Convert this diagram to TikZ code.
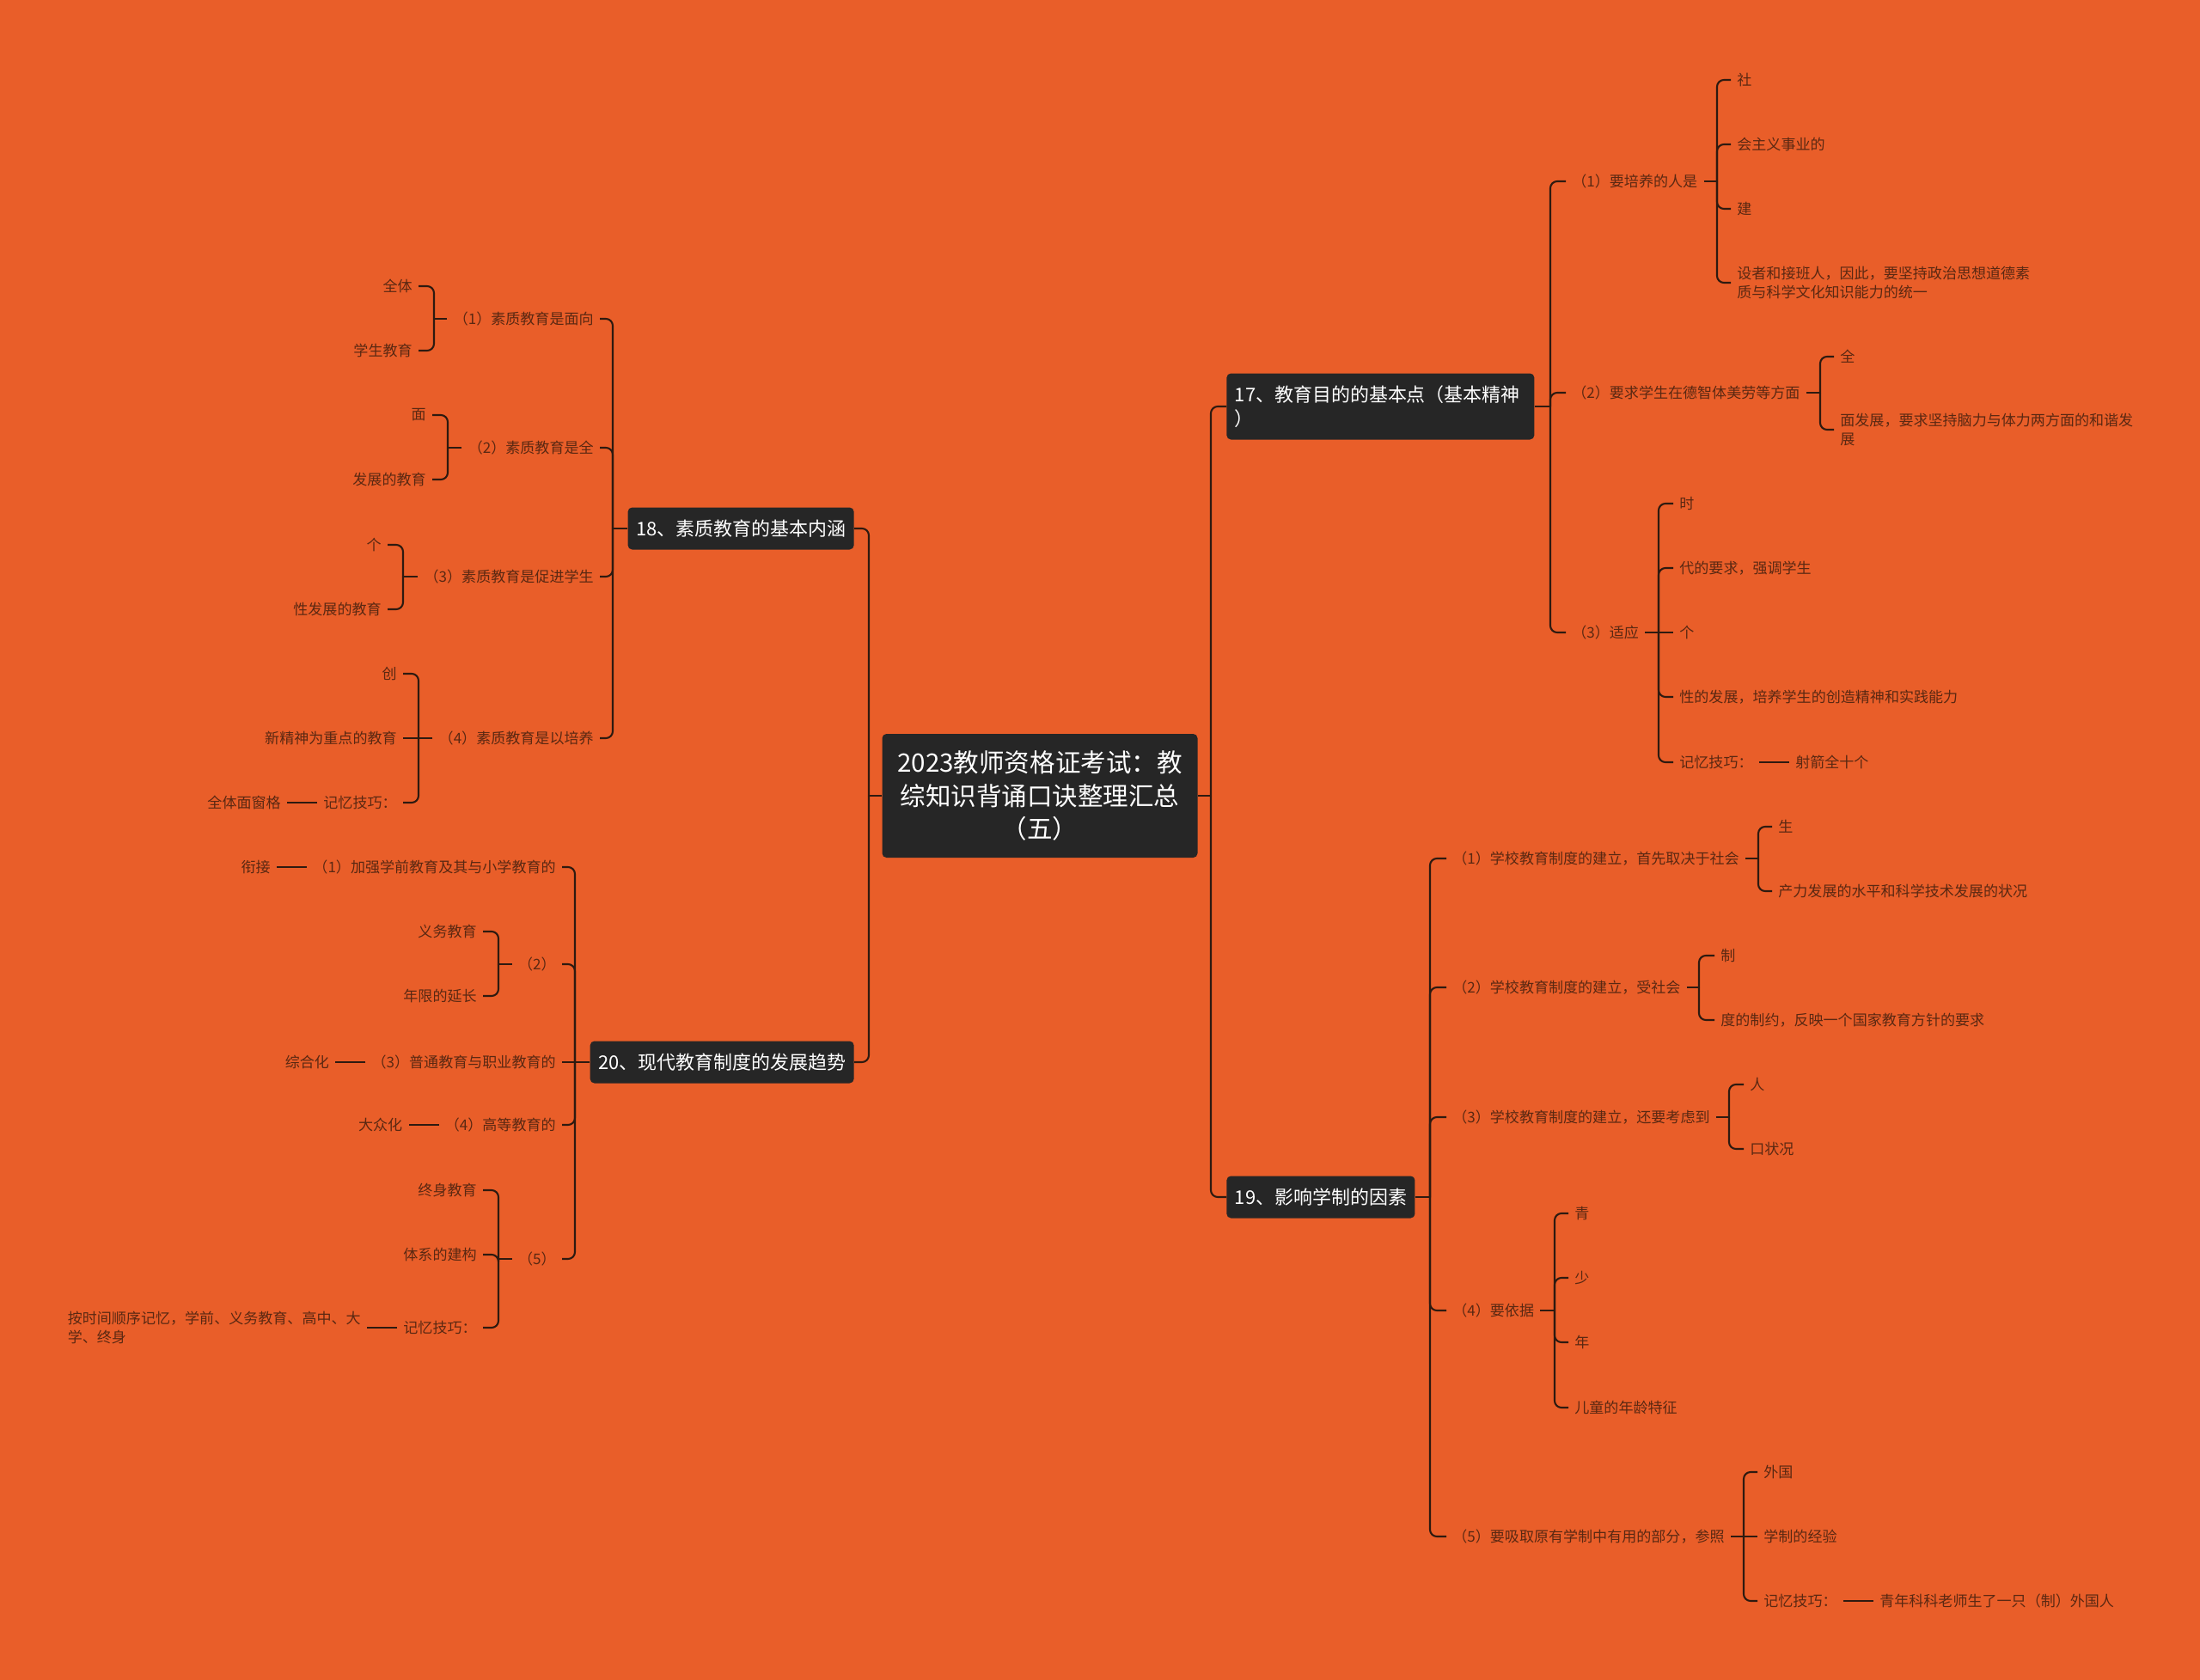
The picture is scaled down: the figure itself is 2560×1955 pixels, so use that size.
\documentclass[tikz,border=0pt]{standalone}
\usepackage{fontspec}
\setmainfont{Noto Sans CJK SC}
\usepackage{xcolor}
\usetikzlibrary{positioning}
\definecolor{bgc}{HTML}{E95E29}
\definecolor{boxc}{HTML}{262626}
\definecolor{linkc}{HTML}{2E1A10}
\definecolor{leafc}{HTML}{5A2812}
\newcommand{\rootfont}{\fontsize{16.8}{22}\selectfont}
\newcommand{\topicfont}{\fontsize{12.5}{15.8}\selectfont}
\newcommand{\leaffont}{\fontsize{9.7}{12.2}\selectfont}

\begin{document}
\begin{tikzpicture}[x=0.2mm,y=-0.2mm,
node distance=7mm,
root/.style={rectangle,rounded corners=1mm,fill=boxc,text=white,align=center,
minimum width=73.4mm,minimum height=28.8mm,font=\rootfont},
topic/.style={rectangle,rounded corners=1mm,fill=boxc,text=white,
inner xsep=1.9mm,minimum height=9.8mm,font=\topicfont},
rleaf/.style={anchor=west,text=leafc,inner xsep=1.4mm,inner ysep=0.6mm,align=left,font=\leaffont},
lleaf/.style={rleaf,anchor=east},
link/.style={draw=linkc,line width=1.2pt,rounded corners=1.6mm}]
\fill[bgc] (0,0) rectangle (2560,1955);
\useasboundingbox (0,0) rectangle (2560,1955);

\node[root] (root) at (1210,926) {2023教师资格证考试：教\\综知识背诵口诀整理汇总\\（五）};
\node[topic,anchor=west,text width=67.8mm,align=left,minimum height=15.4mm] (aims) at (1427,473) {17、教育目的的基本点（基本精神\\）};
\node[topic,anchor=west] (factors) at (1427,1393) {19、影响学制的因素};
\node[topic,anchor=east] (quality) at (994,615) {18、素质教育的基本内涵};
\node[topic,anchor=east] (trends) at (994,1236) {20、现代教育制度的发展趋势};
\coordinate (rootr) at (1409,926);
\coordinate (rootl) at (1011,926);
\draw[link] (root.east) -- (rootr);
\draw[link] (rootr) |- (aims.west);
\draw[link] (rootr) |- (factors.west);
\draw[link] (root.west) -- (rootl);
\draw[link] (rootl) |- (quality.east);
\draw[link] (rootl) |- (trends.east);

\coordinate (aimbus) at (1804,473);
\node[rleaf] (aim1) at (1822,211) {（1）要培养的人是};
\node[rleaf] (aim2) at (1822,457) {（2）要求学生在德智体美劳等方面};
\node[rleaf] (aim3) at (1822,736) {（3）适应};
\draw[link] (aims.east) -- (aimbus);
\draw[link] (aimbus) |- (aim1.west);
\draw[link] (aimbus) |- (aim2.west);
\draw[link] (aimbus) |- (aim3.west);

\coordinate (aim1bus) at (1998,211);
\node[rleaf] (aim1a) at (2014,93) {社};
\node[rleaf] (aim1b) at (2014,168) {会主义事业的};
\node[rleaf] (aim1c) at (2014,243) {建};
\node[rleaf] (aim1d) at (2014,329) {设者和接班人，因此，要坚持政治思想道德素\\质与科学文化知识能力的统一};
\draw[link] (aim1.east) -- (aim1bus);
\draw[link] (aim1bus) |- (aim1a.west);
\draw[link] (aim1bus) |- (aim1b.west);
\draw[link] (aim1bus) |- (aim1c.west);
\draw[link] (aim1bus) |- (aim1d.west);

\coordinate (aim2bus) at (2118,457);
\node[rleaf] (aim2a) at (2134,415) {全};
\node[rleaf] (aim2b) at (2134,500) {面发展，要求坚持脑力与体力两方面的和谐发\\展};
\draw[link] (aim2.east) -- (aim2bus);
\draw[link] (aim2bus) |- (aim2a.west);
\draw[link] (aim2bus) |- (aim2b.west);

\coordinate (aim3bus) at (1930,736);
\node[rleaf] (aim3a) at (1947,586) {时};
\node[rleaf] (aim3b) at (1947,661) {代的要求，强调学生};
\node[rleaf] (aim3c) at (1947,736) {个};
\node[rleaf] (aim3d) at (1947,811) {性的发展，培养学生的创造精神和实践能力};
\node[rleaf] (aim3e) at (1947,887) {记忆技巧：};
\node[rleaf,right=7mm of aim3e] (aim3tip) {射箭全十个};
\draw[link] (aim3.east) -- (aim3bus);
\draw[link] (aim3bus) |- (aim3a.west);
\draw[link] (aim3bus) |- (aim3b.west);
\draw[link] (aim3bus) -- (aim3c.west);
\draw[link] (aim3bus) |- (aim3d.west);
\draw[link] (aim3bus) |- (aim3e.west);
\draw[link] (aim3e.east) -- (aim3tip.west);

\coordinate (factbus) at (1664,1393);
\node[rleaf] (fact1) at (1683,999) {（1）学校教育制度的建立，首先取决于社会};
\node[rleaf] (fact2) at (1683,1149) {（2）学校教育制度的建立，受社会};
\node[rleaf] (fact3) at (1683,1300) {（3）学校教育制度的建立，还要考虑到};
\node[rleaf] (fact4) at (1683,1525) {（4）要依据};
\node[rleaf] (fact5) at (1683,1788) {（5）要吸取原有学制中有用的部分，参照};
\draw[link] (factors.east) -- (factbus);
\draw[link] (factbus) |- (fact1.west);
\draw[link] (factbus) |- (fact2.west);
\draw[link] (factbus) |- (fact3.west);
\draw[link] (factbus) |- (fact4.west);
\draw[link] (factbus) |- (fact5.west);

\coordinate (fact1bus) at (2046,999);
\node[rleaf] (fact1a) at (2062,962) {生};
\node[rleaf] (fact1b) at (2062,1037) {产力发展的水平和科学技术发展的状况};
\draw[link] (fact1.east) -- (fact1bus);
\draw[link] (fact1bus) |- (fact1a.west);
\draw[link] (fact1bus) |- (fact1b.west);

\coordinate (fact2bus) at (1977,1149);
\node[rleaf] (fact2a) at (1995,1112) {制};
\node[rleaf] (fact2b) at (1995,1187) {度的制约，反映一个国家教育方针的要求};
\draw[link] (fact2.east) -- (fact2bus);
\draw[link] (fact2bus) |- (fact2a.west);
\draw[link] (fact2bus) |- (fact2b.west);

\coordinate (fact3bus) at (2012,1300);
\node[rleaf] (fact3a) at (2029,1262) {人};
\node[rleaf] (fact3b) at (2029,1337) {口状况};
\draw[link] (fact3.east) -- (fact3bus);
\draw[link] (fact3bus) |- (fact3a.west);
\draw[link] (fact3bus) |- (fact3b.west);

\coordinate (fact4bus) at (1809,1525);
\node[rleaf] (fact4a) at (1825,1412) {青};
\node[rleaf] (fact4b) at (1825,1487) {少};
\node[rleaf] (fact4c) at (1825,1562) {年};
\node[rleaf] (fact4d) at (1825,1638) {儿童的年龄特征};
\draw[link] (fact4.east) -- (fact4bus);
\draw[link] (fact4bus) |- (fact4a.west);
\draw[link] (fact4bus) |- (fact4b.west);
\draw[link] (fact4bus) |- (fact4c.west);
\draw[link] (fact4bus) |- (fact4d.west);

\coordinate (fact5bus) at (2029,1788);
\node[rleaf] (fact5a) at (2045,1713) {外国};
\node[rleaf] (fact5b) at (2045,1788) {学制的经验};
\node[rleaf] (fact5c) at (2045,1863) {记忆技巧：};
\node[rleaf,right=7mm of fact5c] (fact5tip) {青年科科老师生了一只（制）外国人};
\draw[link] (fact5.east) -- (fact5bus);
\draw[link] (fact5bus) |- (fact5a.west);
\draw[link] (fact5bus) -- (fact5b.west);
\draw[link] (fact5bus) |- (fact5c.west);
\draw[link] (fact5c.east) -- (fact5tip.west);

\coordinate (qbus) at (713,615);
\node[lleaf] (q1) at (698,371) {（1）素质教育是面向};
\node[lleaf] (q2) at (698,521) {（2）素质教育是全};
\node[lleaf] (q3) at (698,671) {（3）素质教育是促进学生};
\node[lleaf] (q4) at (698,859) {（4）素质教育是以培养};
\draw[link] (quality.west) -- (qbus);
\draw[link] (qbus) |- (q1.east);
\draw[link] (qbus) |- (q2.east);
\draw[link] (qbus) |- (q3.east);
\draw[link] (qbus) |- (q4.east);

\coordinate (q1bus) at (505,371);
\node[lleaf] (q1a) at (487,333) {全体};
\node[lleaf] (q1b) at (487,408) {学生教育};
\draw[link] (q1.west) -- (q1bus);
\draw[link] (q1bus) |- (q1a.east);
\draw[link] (q1bus) |- (q1b.east);

\coordinate (q2bus) at (521,521);
\node[lleaf] (q2a) at (503,483) {面};
\node[lleaf] (q2b) at (503,558) {发展的教育};
\draw[link] (q2.west) -- (q2bus);
\draw[link] (q2bus) |- (q2a.east);
\draw[link] (q2bus) |- (q2b.east);

\coordinate (q3bus) at (469,671);
\node[lleaf] (q3a) at (451,634) {个};
\node[lleaf] (q3b) at (451,709) {性发展的教育};
\draw[link] (q3.west) -- (q3bus);
\draw[link] (q3bus) |- (q3a.east);
\draw[link] (q3bus) |- (q3b.east);

\coordinate (q4bus) at (487,859);
\node[lleaf] (q4a) at (469,784) {创};
\node[lleaf] (q4b) at (469,859) {新精神为重点的教育};
\node[lleaf] (q4c) at (469,934) {记忆技巧：};
\node[lleaf,left=7mm of q4c] (q4tip) {全体面窗格};
\draw[link] (q4.west) -- (q4bus);
\draw[link] (q4bus) |- (q4a.east);
\draw[link] (q4bus) -- (q4b.east);
\draw[link] (q4bus) |- (q4c.east);
\draw[link] (q4c.west) -- (q4tip.east);

\coordinate (tbus) at (669,1236);
\node[lleaf] (tr1) at (654,1009) {（1）加强学前教育及其与小学教育的};
\node[lleaf] (tr2) at (654,1122) {（2）};
\node[lleaf] (tr3) at (654,1236) {（3）普通教育与职业教育的};
\node[lleaf] (tr4) at (654,1309) {（4）高等教育的};
\node[lleaf] (tr5) at (654,1465) {（5）};
\draw[link] (trends.west) -- (tbus);
\draw[link] (tbus) |- (tr1.east);
\draw[link] (tbus) |- (tr2.east);
\draw[link] (tbus) -- (tr3.east);
\draw[link] (tbus) |- (tr4.east);
\draw[link] (tbus) |- (tr5.east);

\node[lleaf,left=7mm of tr1] (tr1tip) {衔接};
\node[lleaf,left=7mm of tr3] (tr3tip) {综合化};
\node[lleaf,left=7mm of tr4] (tr4tip) {大众化};
\draw[link] (tr1.west) -- (tr1tip.east);
\draw[link] (tr3.west) -- (tr3tip.east);
\draw[link] (tr4.west) -- (tr4tip.east);

\coordinate (tr2bus) at (580,1122);
\node[lleaf] (tr2a) at (562,1084) {义务教育};
\node[lleaf] (tr2b) at (562,1159) {年限的延长};
\draw[link] (tr2.west) -- (tr2bus);
\draw[link] (tr2bus) |- (tr2a.east);
\draw[link] (tr2bus) |- (tr2b.east);

\coordinate (tr5bus) at (580,1465);
\node[lleaf] (tr5a) at (562,1385) {终身教育};
\node[lleaf] (tr5b) at (562,1460) {体系的建构};
\node[lleaf] (tr5c) at (562,1545) {记忆技巧：};
\node[lleaf,left=7mm of tr5c] (tr5tip) {按时间顺序记忆，学前、义务教育、高中、大\\学、终身};
\draw[link] (tr5.west) -- (tr5bus);
\draw[link] (tr5bus) |- (tr5a.east);
\draw[link] (tr5bus) |- (tr5b.east);
\draw[link] (tr5bus) |- (tr5c.east);
\draw[link] (tr5c.west) -- (tr5tip.east);
\end{tikzpicture}
\end{document}
